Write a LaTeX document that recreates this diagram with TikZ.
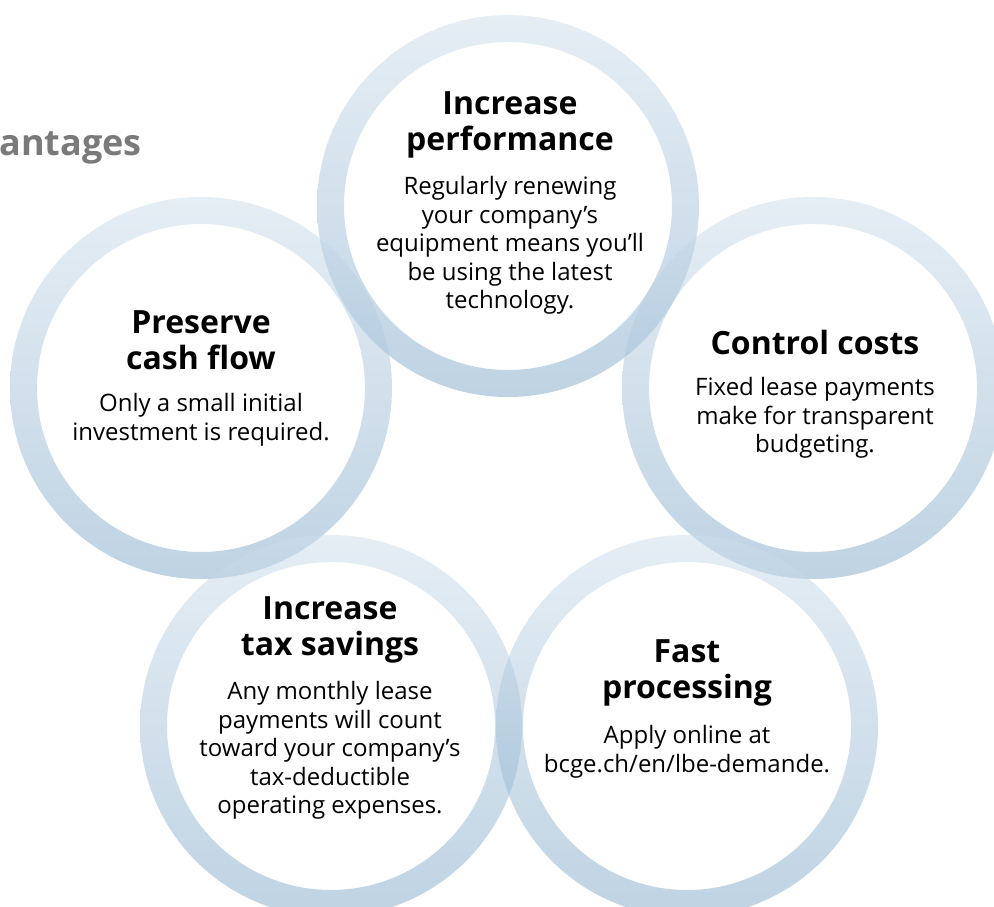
\documentclass[tikz,border=0pt]{standalone}
\usepackage{fontspec}
\setmainfont{Open Sans}
\begin{document}
\begin{tikzpicture}[x=1pt,y=-1pt,
  ring/.style={even odd rule, top color=ringtop, bottom color=ringbot, draw=none, fill opacity=0.5},
  headtxt/.style={align=center, font=\fontsize{32}{36.5}\selectfont\bfseries, inner sep=0pt},
  bodytxt/.style={align=center, font=\fontsize{24}{28.5}\selectfont, inner sep=0pt},
  titletxt/.style={font=\fontsize{36}{40}\selectfont\bfseries, text=titlegray, inner sep=0pt}]
\definecolor{ringtop}{RGB}{205,222,236}
\definecolor{ringbot}{RGB}{128,168,200}
\definecolor{titlegray}{RGB}{122,122,122}
\useasboundingbox (0,0) rectangle (994,907);
\fill[white] (0,0) rectangle (994,907);
% circle centres
\coordinate (cT) at (508,206);
\coordinate (cL) at (201,388);
\coordinate (cR) at (813,388);
\coordinate (cBL) at (331,726);
\coordinate (cBR) at (687,726);
% rings
\foreach \c in {cT,cL,cR,cBL,cBR}{
  \shade[ring] (\c) circle (191pt) (\c) circle (164pt);
}
% title
\node[titletxt, anchor=east] (title) at (142,148) {antages};
% top
\node[headtxt] (hT) at (510,125) {Increase\\performance};
\node[bodytxt] (bT) at (510,245.5) {Regularly renewing\\your company’s\\equipment means you’ll\\be using the latest\\technology.};
% left
\node[headtxt] (hL) at (201,340) {Preserve\\cash flow};
\node[bodytxt] (bL) at (201,420) {Only a small initial\\investment is required.};
% right
\node[headtxt] (hR) at (815,342) {Control costs};
\node[bodytxt] (bR) at (815,418) {Fixed lease payments\\make for transparent\\budgeting.};
% bottom left
\node[headtxt] (hBL) at (330,630) {Increase\\tax savings};
\node[bodytxt] (bBL) at (330,750.5) {Any monthly lease\\payments will count\\toward your company’s\\tax-deductible\\operating expenses.};
% bottom right
\node[headtxt] (hBR) at (687,673) {Fast\\processing};
\node[bodytxt] (bBR) at (687,752) {Apply online at\\bcge.ch/en/lbe-demande.};
\end{tikzpicture}
\end{document}
